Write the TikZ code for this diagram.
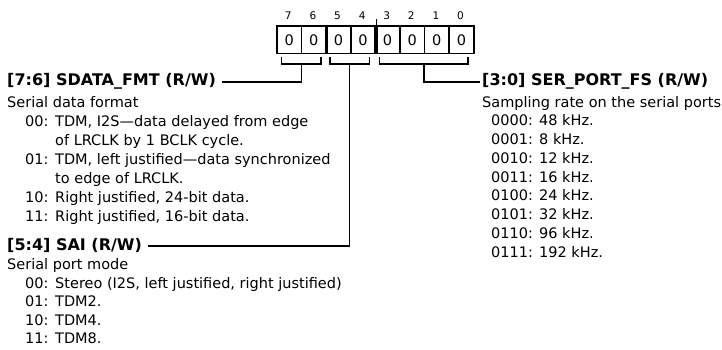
\documentclass[tikz,border=0pt]{standalone}
\usepackage{fontspec}
\setmainfont{DejaVu Sans}
\begin{document}
\begin{tikzpicture}[x=1pt,y=-1pt,
  txt/.style={anchor=base west, inner sep=0pt, font=\fontsize{14.5}{18}\selectfont},
  hdr/.style={anchor=west, inner sep=0pt, text height=11pt, text depth=3pt, font=\fontsize{16}{18}\selectfont\bfseries},
  bitnum/.style={anchor=base, inner sep=0pt, font=\fontsize{10.5}{12}\selectfont},
  cell/.style={draw, line width=1.8pt, minimum width=24.6pt, minimum height=27.7pt, inner sep=0pt, anchor=north west, font=\fontsize{14.5}{18}\selectfont},
  conn/.style={line width=1.8pt}]
\useasboundingbox (0,0) rectangle (722,350);
% register cells
\foreach \b in {7,...,0}{
  \node[cell] (c\b) at ({276+(7-\b)*24.6},25) {0};
  \node[bitnum] (n\b) at ({276+(7-\b)*24.6+12.3},20) {\b};
}
\draw[line width=2.6pt] (c6.north east) -- (c6.south east);
\draw[line width=2.6pt] (c4.north east) -- (c4.south east);
\draw[line width=1.2pt] (c4.north east) -- ++(0,-6);
% braces
\coordinate (b76l) at (281.5,57); \coordinate (b76r) at (321,57); \coordinate (b76m) at (301.5,64);
\coordinate (b54l) at (330,57);   \coordinate (b54r) at (369.5,57); \coordinate (b54m) at (349.5,64);
\coordinate (b30l) at (379.5,57); \coordinate (b30r) at (468,57); \coordinate (b30m) at (424,64);
\draw[conn] (b76l) -- ++(0,7) -| (b76r);
\draw[conn] (b54l) -- ++(0,7) -| (b54r);
\draw[conn] (b30l) -- ++(0,7) -| (b30r);
% left column
\node[hdr] (h76) at (7,82) {[7:6] SDATA\_FMT (R/W)};
\node[txt] (t1) at (7,107) {Serial data format};
\node[txt] (t2n) at (25,126) {00:};
\node[txt] (t2) at (55,126) {TDM, I2S—data delayed from edge};
\node[txt] (t3) at (55,145) {of LRCLK by 1 BCLK cycle.};
\node[txt] (t4n) at (25,164) {01:};
\node[txt] (t4) at (55,164) {TDM, left justified—data synchronized};
\node[txt] (t5) at (55,183) {to edge of LRCLK.};
\node[txt] (t6n) at (25,202) {10:};
\node[txt] (t6) at (55,202) {Right justified, 24-bit data.};
\node[txt] (t7n) at (25,221) {11:};
\node[txt] (t7) at (55,221) {Right justified, 16-bit data.};
\node[hdr] (h54) at (7,246) {[5:4] SAI (R/W)};
\node[txt] (s1) at (7,269.5) {Serial port mode};
\node[txt] (s2n) at (25,288) {00:};
\node[txt] (s2) at (55,288) {Stereo (I2S, left justified, right justified)};
\node[txt] (s3n) at (25,306.5) {01:};
\node[txt] (s3) at (55,306.5) {TDM2.};
\node[txt] (s4n) at (25,325) {10:};
\node[txt] (s4) at (55,325) {TDM4.};
\node[txt] (s5n) at (25,343.5) {11:};
\node[txt] (s5) at (55,343.5) {TDM8.};
% right column
\node[hdr] (h30) at (482,82) {[3:0] SER\_PORT\_FS (R/W)};
\node[txt] (r1) at (482,107) {Sampling rate on the serial ports};
\foreach \code/\val [count=\i] in {0000/48 kHz., 0001/8 kHz., 0010/12 kHz., 0011/16 kHz., 0100/24 kHz., 0101/32 kHz., 0110/96 kHz., 0111/192 kHz.}{
  \node[txt] (rn\i) at (491,{107+\i*18.75}) {\code:};
  \node[txt] (rv\i) at (539,{107+\i*18.75}) {\val};
}
% connectors
\draw[conn] (b76m) |- ([xshift=6pt]h76.east);
\draw[conn] (b54m) |- ([xshift=6pt]h54.east);
\draw[conn] (b30m) |- ([xshift=-2pt]h30.west);
\end{tikzpicture}
\end{document}
